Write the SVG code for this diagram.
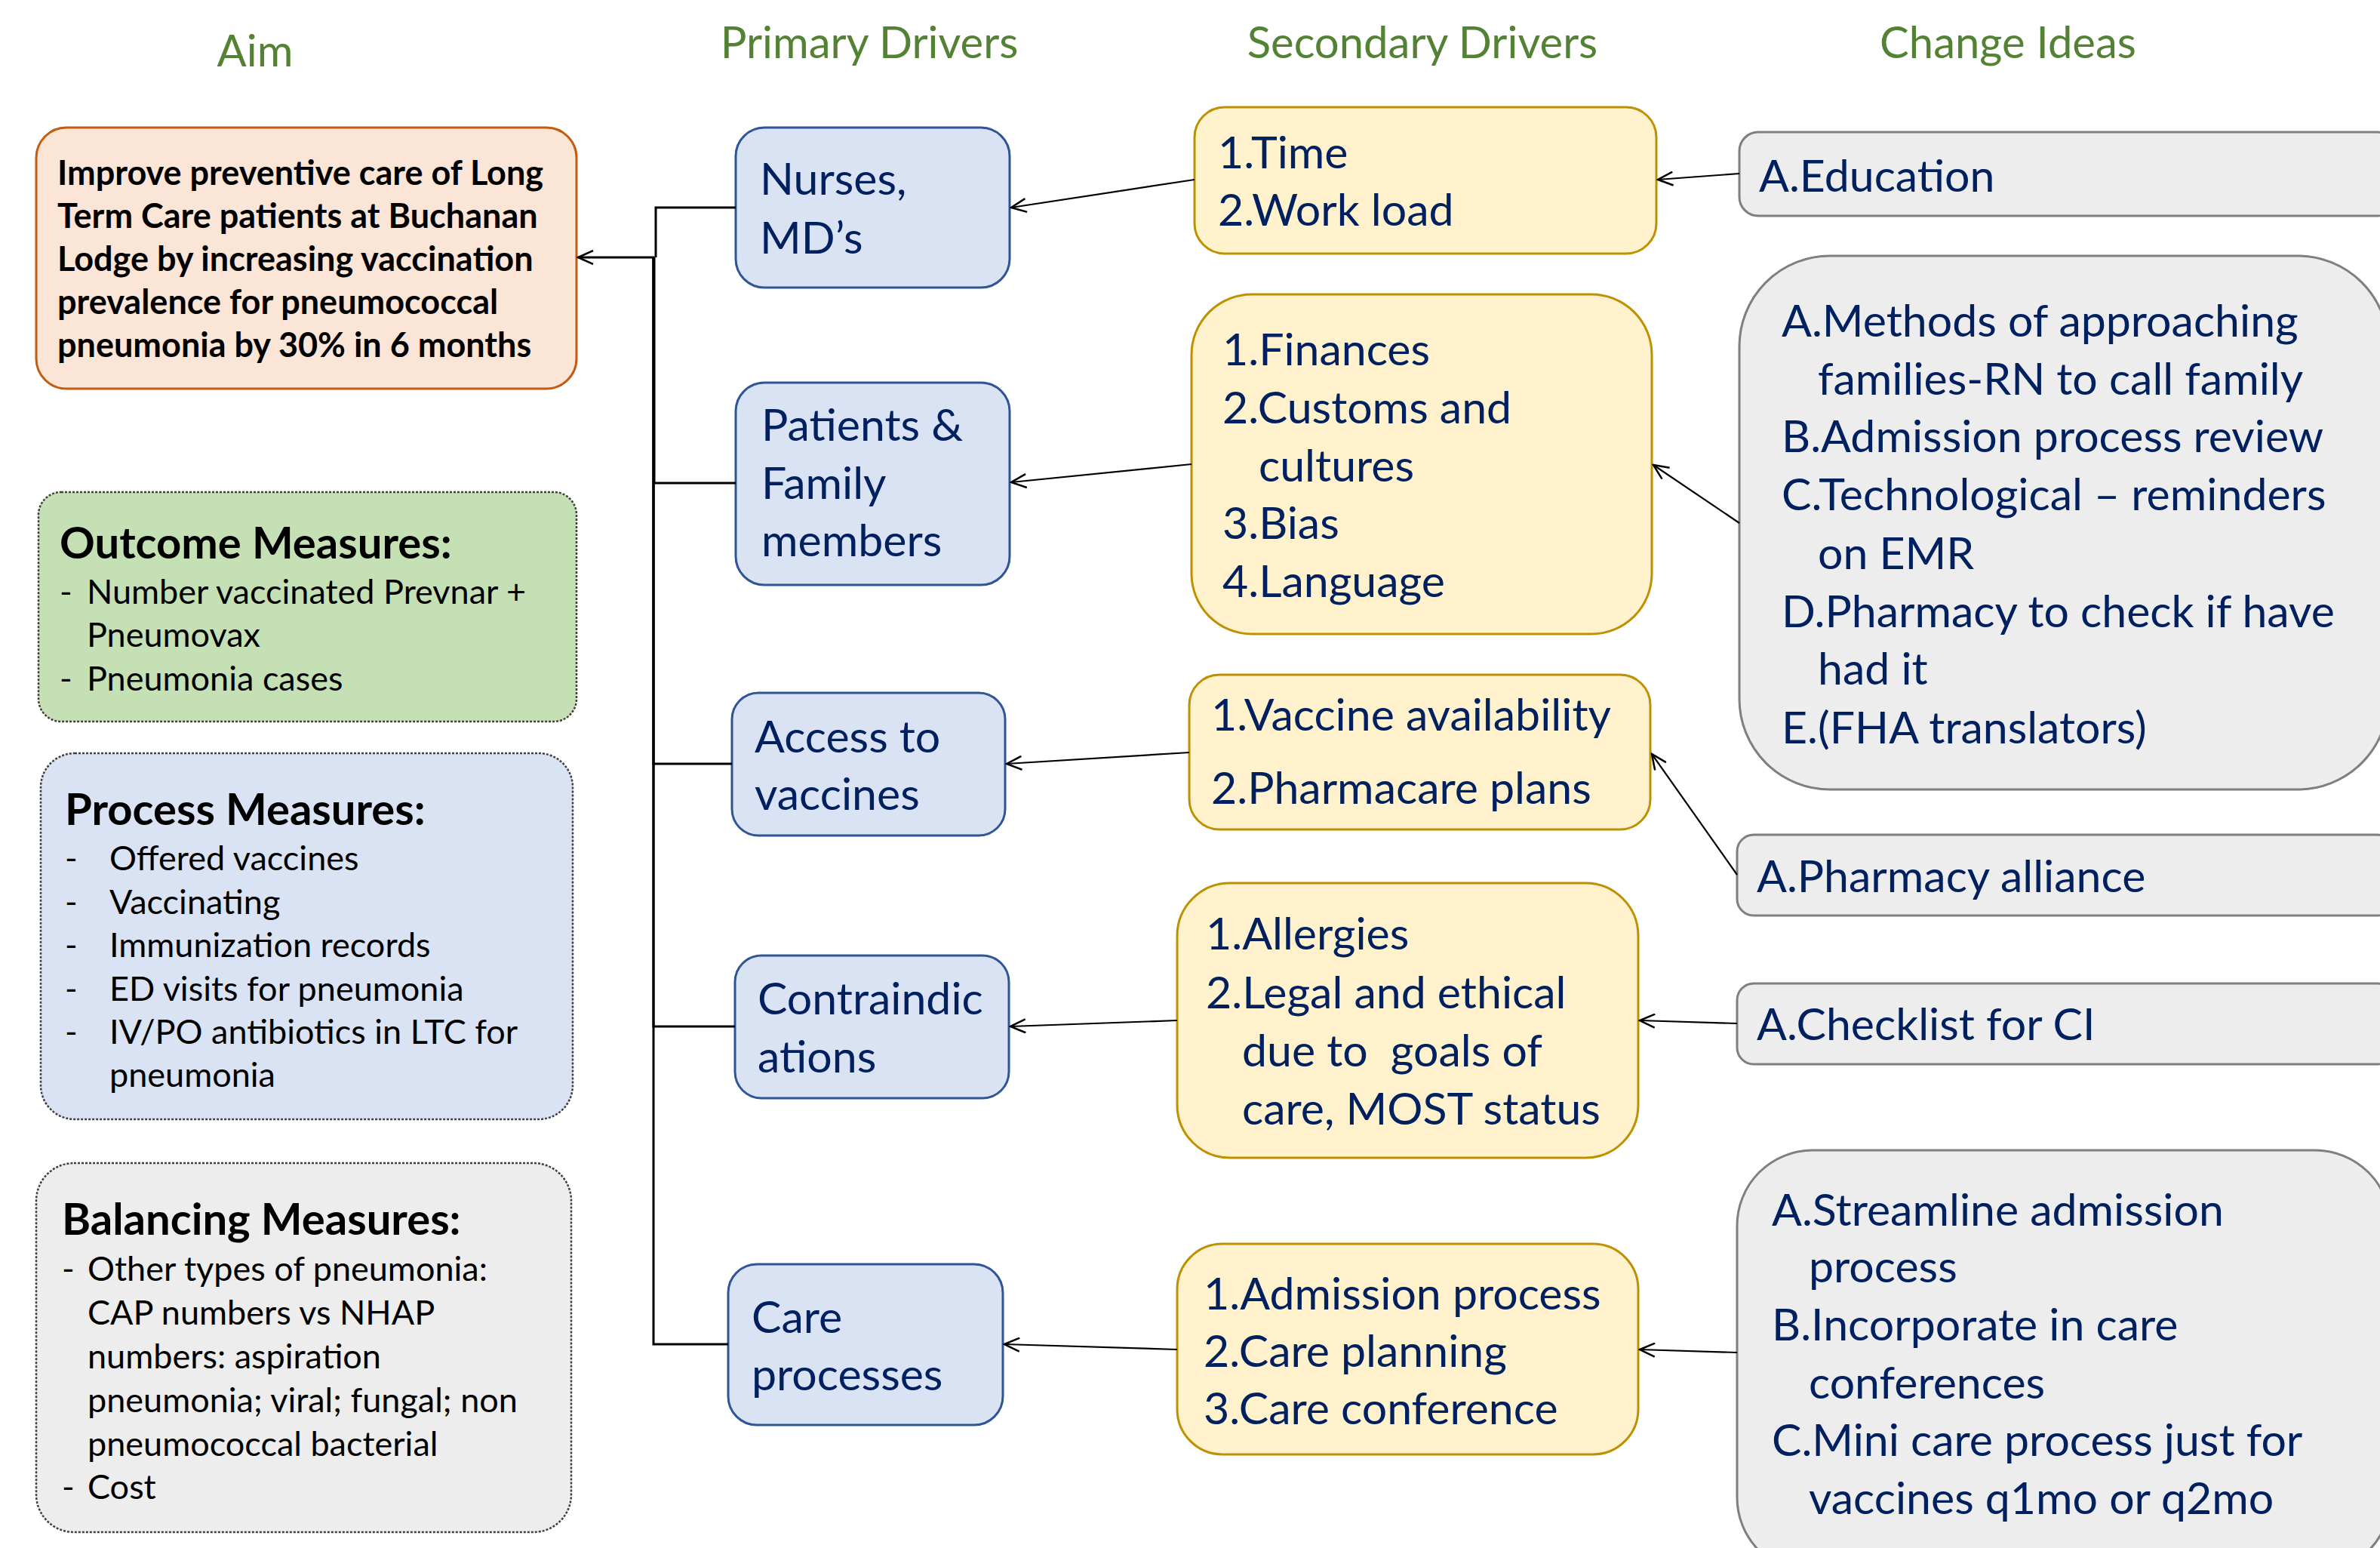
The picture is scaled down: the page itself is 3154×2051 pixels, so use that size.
<svg xmlns="http://www.w3.org/2000/svg" width="3154" height="2051" viewBox="0 0 3154 2051">
<style>
text{font-family:Lato,"Open Sans","Liberation Sans",sans-serif}
.hdr{fill:#548235;font-size:58px;text-anchor:middle}
.aim{fill:#FBE5D6;stroke:#C55A11;stroke-width:3}
.aimt{fill:#000;font-size:45px;font-weight:bold}
.pd{fill:#DAE3F3;stroke:#2F5597;stroke-width:3}
.sd{fill:#FFF2CC;stroke:#BF9000;stroke-width:3}
.ci{fill:#EDEDED;stroke:#7F7F7F;stroke-width:3}
.nv{fill:#002060;font-size:59px}
.ms{stroke:#404040;stroke-width:2.5;stroke-dasharray:3 2}
.mh{fill:#000;font-size:58px;font-weight:bold}
.mi{fill:#000;font-size:45px}
.c1{fill:none;stroke:#000;stroke-width:3}
.c2{fill:none;stroke:#000;stroke-width:2.2}
</style>
<defs>
<marker id="arr" viewBox="0 0 24 20" refX="22" refY="10" markerWidth="24" markerHeight="20" markerUnits="userSpaceOnUse" orient="auto">
<path d="M2,1 L22,10 L2,19" fill="none" stroke="#000" stroke-width="2.5"/>
</marker>
</defs>

<g id="headers">
<text class="hdr" x="338" y="88">Aim</text>
<text class="hdr" x="1152" y="77">Primary Drivers</text>
<text class="hdr" x="1885" y="77">Secondary Drivers</text>
<text class="hdr" x="2661" y="77">Change Ideas</text>
</g>

<g id="aim">
<rect class="aim" x="48" y="169" width="716" height="346" rx="40"/>
<text class="aimt" x="76" y="245">Improve preventive care of Long</text>
<text class="aimt" x="76" y="302">Term Care patients at Buchanan</text>
<text class="aimt" x="76" y="359">Lodge by increasing vaccination</text>
<text class="aimt" x="76" y="416">prevalence for pneumococcal</text>
<text class="aimt" x="76" y="473">pneumonia by 30% in 6 months</text>
</g>

<g id="outcome-measures">
<rect class="ms" fill="#C5E0B4" x="51" y="652" width="713" height="304" rx="30"/>
<text class="mh" x="79" y="740">Outcome Measures:</text>
<text class="mi" x="79" y="800">-</text><text class="mi" x="115" y="800">Number vaccinated Prevnar +</text>
<text class="mi" x="115" y="857">Pneumovax</text>
<text class="mi" x="79" y="915">-</text><text class="mi" x="115" y="915">Pneumonia cases</text>
</g>

<g id="process-measures">
<rect class="ms" fill="#DAE3F3" x="54" y="998" width="705" height="485" rx="45"/>
<text class="mh" x="86" y="1093">Process Measures:</text>
<text class="mi" x="86" y="1153">-</text><text class="mi" x="145" y="1153">Offered vaccines</text>
<text class="mi" x="86" y="1211">-</text><text class="mi" x="145" y="1211">Vaccinating</text>
<text class="mi" x="86" y="1268">-</text><text class="mi" x="145" y="1268">Immunization records</text>
<text class="mi" x="86" y="1326">-</text><text class="mi" x="145" y="1326">ED visits for pneumonia</text>
<text class="mi" x="86" y="1383">-</text><text class="mi" x="145" y="1383">IV/PO antibiotics in LTC for</text>
<text class="mi" x="145" y="1440">pneumonia</text>
</g>

<g id="balancing-measures">
<rect class="ms" fill="#EDEDED" x="48" y="1541" width="709" height="489" rx="50"/>
<text class="mh" x="82" y="1636">Balancing Measures:</text>
<text class="mi" x="82" y="1697">-</text><text class="mi" x="116" y="1697">Other types of pneumonia:</text>
<text class="mi" x="116" y="1755">CAP numbers vs NHAP</text>
<text class="mi" x="116" y="1813">numbers: aspiration</text>
<text class="mi" x="116" y="1871">pneumonia; viral; fungal; non</text>
<text class="mi" x="116" y="1929">pneumococcal bacterial</text>
<text class="mi" x="82" y="1986">-</text><text class="mi" x="116" y="1986">Cost</text>
</g>

<g id="pd-nurses">
<rect class="pd" x="975" y="169" width="363" height="212" rx="38"/>
<text class="nv" x="1007" y="258">Nurses,</text>
<text class="nv" x="1007" y="336">MD’s</text>
</g>
<g id="pd-patients">
<rect class="pd" x="975" y="507" width="363" height="268" rx="38"/>
<text class="nv" x="1009" y="584">Patients &amp;</text>
<text class="nv" x="1009" y="661">Family</text>
<text class="nv" x="1009" y="737">members</text>
</g>
<g id="pd-access">
<rect class="pd" x="970" y="918" width="362" height="189" rx="35"/>
<text class="nv" x="1000" y="997">Access to</text>
<text class="nv" x="1000" y="1073">vaccines</text>
</g>
<g id="pd-contra">
<rect class="pd" x="974" y="1266" width="363" height="189" rx="35"/>
<text class="nv" x="1004" y="1344">Contraindic</text>
<text class="nv" x="1004" y="1421">ations</text>
</g>
<g id="pd-care">
<rect class="pd" x="965" y="1675" width="364" height="213" rx="38"/>
<text class="nv" x="996" y="1766">Care</text>
<text class="nv" x="996" y="1842">processes</text>
</g>

<g id="sd-time">
<rect class="sd" x="1583" y="142" width="612" height="194" rx="40"/>
<text class="nv" x="1614" y="223">1.Time</text>
<text class="nv" x="1614" y="299">2.Work load</text>
</g>
<g id="sd-finances">
<rect class="sd" x="1579" y="390" width="610" height="450" rx="80"/>
<text class="nv" x="1620" y="484">1.Finances</text>
<text class="nv" x="1620" y="561">2.Customs and</text>
<text class="nv" x="1668" y="638">cultures</text>
<text class="nv" x="1620" y="714">3.Bias</text>
<text class="nv" x="1620" y="791">4.Language</text>
</g>
<g id="sd-vaccine">
<rect class="sd" x="1576" y="894" width="611" height="205" rx="40"/>
<text class="nv" x="1605" y="968">1.Vaccine availability</text>
<text class="nv" x="1605" y="1065">2.Pharmacare plans</text>
</g>
<g id="sd-allergies">
<rect class="sd" x="1560" y="1170" width="611" height="364" rx="70"/>
<text class="nv" x="1598" y="1258">1.Allergies</text>
<text class="nv" x="1598" y="1336">2.Legal and ethical</text>
<text class="nv" x="1646" y="1413" xml:space="preserve" style="white-space:pre">due to  goals of</text>
<text class="nv" x="1646" y="1490">care, MOST status</text>
</g>
<g id="sd-admission">
<rect class="sd" x="1560" y="1648" width="611" height="279" rx="60"/>
<text class="nv" x="1595" y="1735">1.Admission process</text>
<text class="nv" x="1595" y="1811">2.Care planning</text>
<text class="nv" x="1595" y="1887">3.Care conference</text>
</g>

<g id="ci-education">
<rect class="ci" x="2305" y="175" width="870" height="111" rx="25"/>
<text class="nv" x="2331" y="254">A.Education</text>
</g>
<g id="ci-methods">
<rect class="ci" x="2305" y="339" width="860" height="707" rx="120"/>
<text class="nv" x="2361" y="446">A.Methods of approaching</text>
<text class="nv" x="2409" y="523">families-RN to call family</text>
<text class="nv" x="2361" y="599">B.Admission process review</text>
<text class="nv" x="2361" y="676">C.Technological – reminders</text>
<text class="nv" x="2409" y="754">on EMR</text>
<text class="nv" x="2361" y="831">D.Pharmacy to check if have</text>
<text class="nv" x="2409" y="907">had it</text>
<text class="nv" x="2361" y="985">E.(FHA translators)</text>
</g>
<g id="ci-pharmacy">
<rect class="ci" x="2302" y="1106" width="870" height="107" rx="22"/>
<text class="nv" x="2328" y="1182">A.Pharmacy alliance</text>
</g>
<g id="ci-checklist">
<rect class="ci" x="2302" y="1303" width="870" height="107" rx="22"/>
<text class="nv" x="2328" y="1378">A.Checklist for CI</text>
</g>
<g id="ci-streamline">
<rect class="ci" x="2302" y="1524" width="866" height="560" rx="100"/>
<text class="nv" x="2348" y="1624">A.Streamline admission</text>
<text class="nv" x="2397" y="1699">process</text>
<text class="nv" x="2348" y="1776">B.Incorporate in care</text>
<text class="nv" x="2397" y="1853">conferences</text>
<text class="nv" x="2348" y="1929">C.Mini care process just for</text>
<text class="nv" x="2397" y="2006">vaccines q1mo or q2mo</text>
</g>

<g id="connectors">
<path class="c1" d="M975,275 H869 V341"/>
<path class="c1" d="M975,640 H867 V341"/>
<path class="c1" d="M970,1012 H866 V341"/>
<path class="c1" d="M974,1360 H866 V341"/>
<path class="c1" d="M965,1781 H866 V341 H766" marker-end="url(#arr)"/>
<path class="c2" d="M1583,238 L1340,275" marker-end="url(#arr)"/>
<path class="c2" d="M1579,615 L1340,639" marker-end="url(#arr)"/>
<path class="c2" d="M1576,997 L1334,1012" marker-end="url(#arr)"/>
<path class="c2" d="M1560,1352 L1339,1360" marker-end="url(#arr)"/>
<path class="c2" d="M1560,1788 L1331,1781" marker-end="url(#arr)"/>
<path class="c2" d="M2305,230 L2197,238" marker-end="url(#arr)"/>
<path class="c2" d="M2305,693 L2191,616" marker-end="url(#arr)"/>
<path class="c2" d="M2302,1159 L2189,999" marker-end="url(#arr)"/>
<path class="c2" d="M2302,1356 L2173,1352" marker-end="url(#arr)"/>
<path class="c2" d="M2302,1792 L2173,1788" marker-end="url(#arr)"/>
</g>
</svg>
